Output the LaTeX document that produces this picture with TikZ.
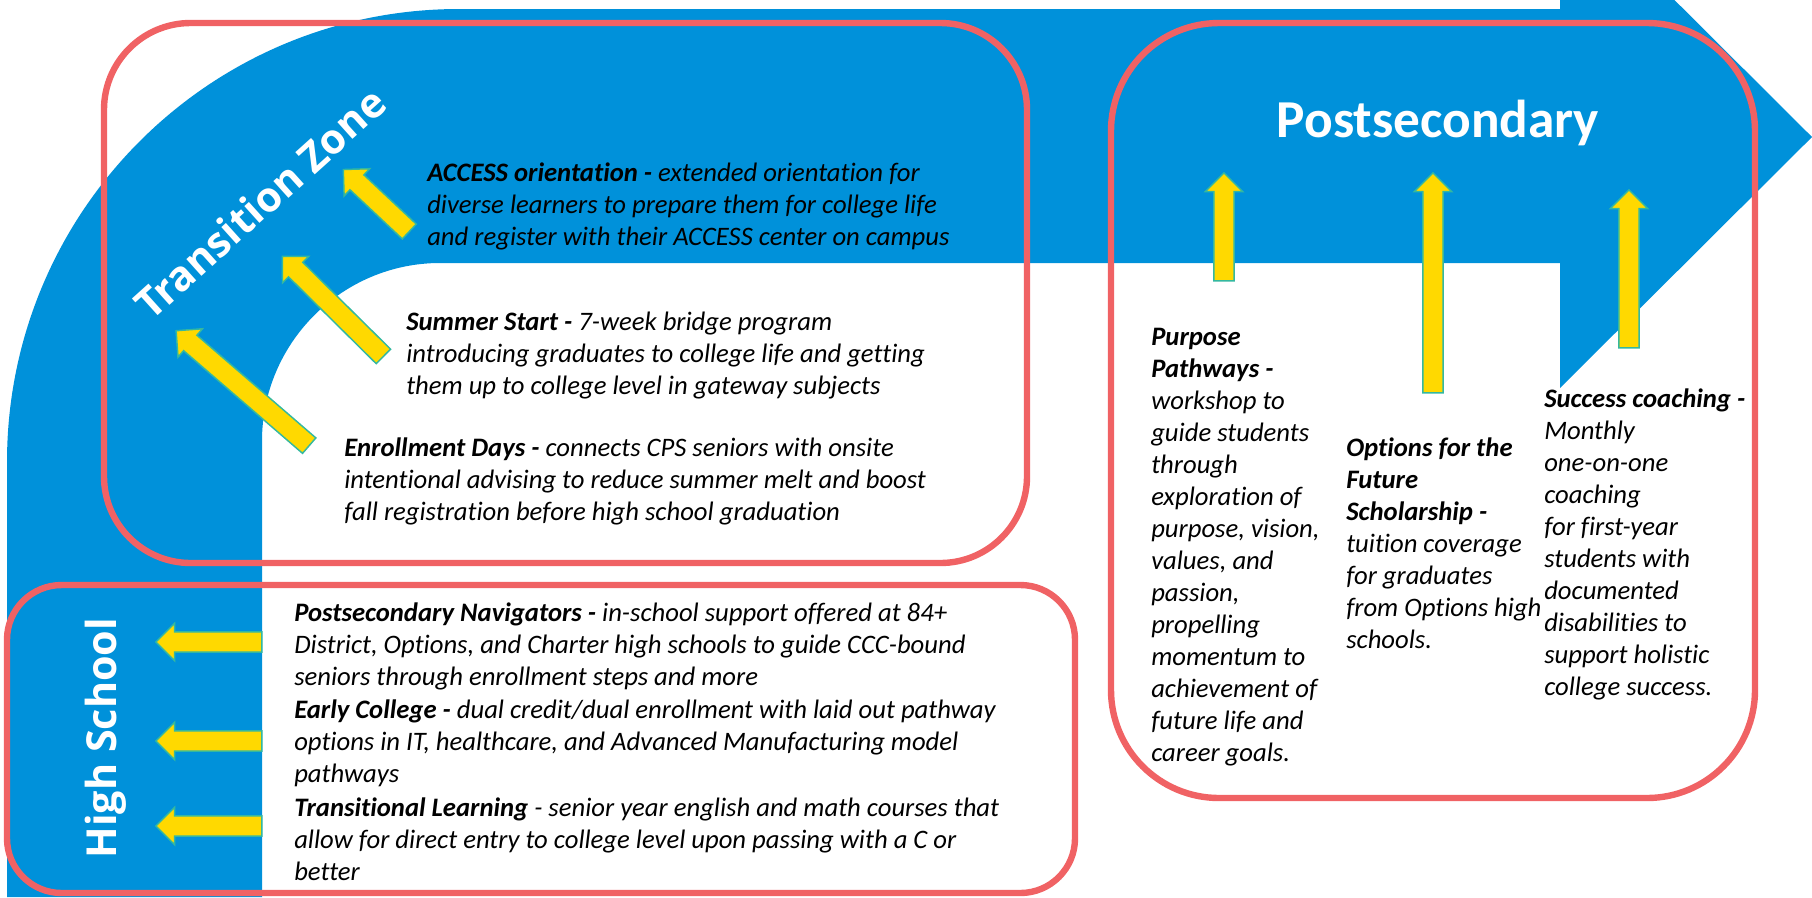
\documentclass[tikz,border=0pt]{standalone}
\usepackage{fontspec}
\setmainfont{Carlito}[Ligatures=CommonOff]
\newfontfamily\zonefont{Open Sans}
\usetikzlibrary{shapes.arrows}
\definecolor{flowblue}{RGB}{0,145,218}
\definecolor{boxred}{RGB}{240,98,100}
\definecolor{arrowyellow}{RGB}{255,217,0}
\definecolor{arrowteal}{RGB}{52,184,160}

\begin{document}
\begin{tikzpicture}[x=0.75pt,y=0.75pt,yscale=-1,xscale=1,
  zonebox/.style={draw=boxred,line width=4.8pt,rounded corners=#1},
  yarrow/.style={single arrow,draw=arrowteal,fill=arrowyellow,line width=1.1pt,inner xsep=0pt,inner ysep=7.1pt,minimum width=27pt,single arrow head extend=6.4pt,minimum height=#1},
  desc/.style={anchor=base west,inner sep=0pt,align=left,font=\fontsize{20}{24}\selectfont\itshape},
  zonetitle/.style={text=white,font=\zonefont\bfseries\fontsize{31}{36}\selectfont}]
\useasboundingbox (0,0) rectangle (1812,897);

%Shape: bent arrow (cut at the top edge)
\begin{scope}
\clip (0,0) rectangle (1812,897);
\fill [flowblue] (7,897) -- (7,462) .. controls (7,212) and (209,9) .. (459,9) -- (1560,9) -- (1560,-114) -- (1812,137) -- (1560,388) -- (1560,263) -- (440,263) .. controls (342,263) and (262,343) .. (262,441) -- (262,897) -- cycle ;
\end{scope}

%Shape: zone boxes
\draw [zonebox=65pt] (104,23) rectangle (1027,563) ;
\draw [zonebox=41pt] (7,585) rectangle (1075,893) ;
\draw [zonebox=81pt] (1111,23) rectangle (1755,798) ;

% Titles
\node [zonetitle,rotate=42] (tztitle) at (260,203) {Transition Zone};
\node [zonetitle,rotate=90] (hstitle) at (106,738) {High School};
\node [text=white,anchor=base,font=\bfseries\fontsize{40}{46}\selectfont] (pstitle) at (1438,137) {Postsecondary};

% Yellow arrows
\node [yarrow=67.9pt,rotate=136.8] (accessarrow) at (380,204) {};
\node [yarrow=106.6pt,rotate=135.3] (summerarrow) at (336.5,310) {};
\node [yarrow=131.9pt,rotate=139.2] (enrollarrow) at (246.5,391.5) {};
\foreach \y/\n in {642/navigarrow,741/earlyarrow,826/translarrow}
  \node [yarrow=79.5pt,rotate=180] (\n) at (214,\y) {};
\node [yarrow=81pt,rotate=90] (purposearrow) at (1224,232) {};
\node [yarrow=165pt,rotate=90] (optionsarrow) at (1433,288) {};
\node [yarrow=118.5pt,rotate=90] (coacharrow) at (1629,274) {};

% Text Node (placed at the baseline of its last line)
\node [desc] (access) at (427,245) {\textbf{ACCESS orientation -} extended orientation for\\ diverse learners to prepare them for college life\\ and register with their ACCESS center on campus};
% Text Node
\node [desc] (summer) at (406,394) {\textbf{Summer Start -} 7-week bridge program\\ introducing graduates to college life and getting\\ them up to college level in gateway subjects};
% Text Node
\node [desc] (enroll) at (344,520) {\textbf{Enrollment Days -} connects CPS seniors with onsite\\ intentional advising to reduce summer melt and boost\\ fall registration before high school graduation};
% Text Node
\node [desc] (navig) at (294,685) {\textbf{Postsecondary Navigators -} in-school support offered at 84+\\ District, Options, and Charter high schools to guide CCC-bound\\ seniors through enrollment steps and more};
% Text Node
\node [desc] (early) at (294,782) {\textbf{Early College -} dual credit/dual enrollment with laid out pathway\\ options in IT, healthcare, and Advanced Manufacturing model\\ pathways};
% Text Node
\node [desc] (translearn) at (294,880) {\textbf{Transitional Learning} - senior year english and math courses that\\ allow for direct entry to college level upon passing with a C or\\ better};
% Text Node
\node [desc] (purpose) at (1151,761) {\textbf{Purpose}\\ \textbf{Pathways -}\\ workshop to\\ guide students\\ through\\ exploration of\\ purpose, vision,\\ values, and\\ passion,\\ propelling\\ momentum to\\ achievement of\\ future life and\\ career goals.};
% Text Node
\node [desc] (options) at (1346,648) {\textbf{Options for the}\\ \textbf{Future}\\ \textbf{Scholarship -}\\ tuition coverage\\ for graduates\\ from Options high\\ schools.};
% Text Node
\node [desc] (coaching) at (1544,695) {\textbf{Success coaching -}\\ Monthly\\ one-on-one\\ coaching\\ for first-year\\ students with\\ documented\\ disabilities to\\ support holistic\\ college success.};

\end{tikzpicture}
\end{document}
